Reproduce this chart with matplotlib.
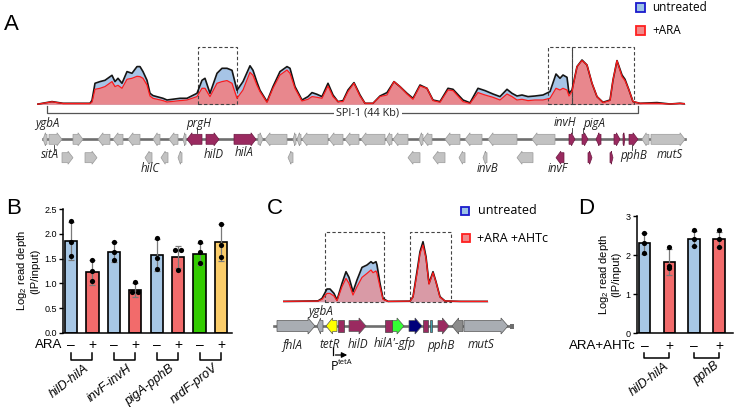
import numpy as np
import matplotlib
matplotlib.use("Agg")
import matplotlib.pyplot as plt
from matplotlib.patches import Polygon, Rectangle

plt.rcParams['font.family'] = ['Liberation Sans', 'DejaVu Sans']
plt.rcParams['mathtext.default'] = 'regular'

W, H = 736, 407

# ---- panel A coverage track (position along SPI-1 region, read depth) ----
a_pos = [37, 52, 63, 90, 92, 95, 100, 105, 112, 115, 118, 122, 127, 132, 137, 140,
         143, 147, 150, 153, 163, 167, 180, 187, 197, 202, 205, 210, 217, 222, 227,
         232, 237, 243, 250, 253, 257, 260, 267, 273, 280, 287, 290, 295, 302, 308,
         312, 317, 322, 328, 333, 338, 343, 348, 354, 360, 365, 373, 380, 387, 394,
         400, 407, 413, 420, 427, 433, 440, 448, 453, 463, 470, 478, 485, 493, 500,
         507, 512, 517, 522, 528, 535, 543, 550, 556, 560, 563, 567, 569, 572, 577,
         582, 587, 592, 597, 603, 610, 613, 617, 622, 625, 629, 633, 640, 657, 670,
         680, 685]
a_untreated = [0, 2.7, 1, 1, 4, 21, 22.7, 24, 29, 22.7, 26, 21, 32.7, 31, 37.7, 37.7,
               32.7, 24, 11, 8.7, 6, 4.3, 6, 6, 11, 24, 26, 11, 31, 36, 36,
               34, 14, 22.7, 38.5, 34, 22, 14, 2.7, 17.7, 32.7, 37.7, 36, 17.7, 4.3, 7.7,
               11.7, 10, 7.7, 21, 9.3, 2.7, 3.7, 14.3, 21.7, 9.3, 1, 1, 8.3, 11.7, 22.7,
               17.7, 11, 6, 19.3, 16, 4.3, 2.7, 16, 15, 4.3, 1.5, 16, 13.7, 10.3, 7.7,
               15, 11, 8.3, 9.3, 7.7, 8.3, 9.3, 12.7, 30.3, 26, 29.3, 27, 11, 14.3, 37.7,
               44.3, 39.3, 21, 7.7, 2, 4.3, 24.3, 43.7, 29.3, 25, 14.3, 2.7, 1, 1.7, 0.3,
               1, 0.5]
a_ara = [0, 2.5, 0.8, 0.8, 2, 15, 16, 17.7, 22.7, 17.7, 19, 16, 25, 26, 28, 27.7,
         26, 19.3, 8.3, 6, 3.7, 2.3, 3.7, 4.3, 7.7, 16, 16, 7.7, 21, 22.7, 23.7,
         21, 6, 14.3, 32, 29, 19, 12.7, 2, 16, 29.3, 34.3, 31, 16, 3.3, 5,
         7.7, 7, 6, 18.3, 7.7, 2.7, 2.7, 12.7, 21, 8.3, 1, 1, 7.7, 9.3, 22.7,
         17.7, 10.3, 5, 18.3, 16, 3.7, 2, 14.3, 13.7, 2.7, 0.8, 11.7, 9.3, 7, 4.3,
         10.3, 7.7, 4.3, 5, 3.7, 4.3, 4.3, 6, 16, 14.3, 16, 14.3, 8.3, 12.7, 37.7,
         43.7, 39.3, 21, 7.7, 1.7, 3.7, 24.3, 43.7, 27.7, 23.7, 14.3, 2.7, 1, 1, 0.3,
         1, 0.5]

# genes of panel A: (start, end, strand, row, purple?)
a_genes = [(43, 47, -1, 0, 0), (49, 62, 1, 0, 0), (73, 83, 1, 0, 0), (98, 110, -1, 0, 0),
           (113, 123, -1, 0, 0), (128, 140, -1, 0, 0), (153, 160, -1, 0, 0),
           (169, 178, -1, 0, 0), (183, 186, -1, 0, 0), (187, 202, -1, 0, 1),
           (206, 219, 1, 0, 1), (234, 256, 1, 0, 1), (258, 263, 1, 0, 0),
           (265, 287, -1, 0, 0), (293, 296, -1, 0, 0), (297, 301, -1, 0, 0),
           (302, 328, -1, 0, 0), (329, 343, -1, 0, 0), (345, 359, -1, 0, 0),
           (361, 385, -1, 0, 0), (386, 392, -1, 0, 0), (393, 408, -1, 0, 0),
           (419, 423, -1, 0, 0), (423, 432, -1, 0, 0), (445, 460, -1, 0, 0),
           (465, 482, -1, 0, 0), (488, 517, -1, 0, 0), (532, 555, -1, 0, 0),
           (569, 575, 1, 0, 1), (582, 588, 1, 0, 1), (596, 601, -1, 0, 1),
           (614, 620, 1, 0, 1), (623, 625, 1, 0, 1), (629, 638, 1, 0, 1),
           (642, 649, -1, 0, 0), (651, 685, 1, 0, 0),
           (62, 73, 1, 1, 0), (85, 97, 1, 1, 0), (145, 152, -1, 1, 0), (161, 168, -1, 1, 0),
           (178, 182, -1, 1, 0), (288, 293, -1, 1, 0), (408, 420, -1, 1, 0),
           (433, 445, -1, 1, 0), (459, 465, -1, 1, 0), (483, 487, -1, 1, 0),
           (517, 533, -1, 1, 0), (556, 564, -1, 1, 1), (588, 592, 1, 1, 1),
           (610, 613, 1, 1, 1)]
a_labels = [("ygbA", 47, 123), ("sitA", 50, 155), ("prgH", 199, 123), ("hilD", 214, 155),
            ("hilA", 244, 153), ("hilC", 150, 168), ("invB", 487, 168), ("invF", 558, 169),
            ("invH", 565, 123), ("pigA", 594, 123), ("pphB", 634, 155), ("mutS", 670, 155)]

# ---- panel C coverage track (reporter construct) ----
c_pos = [283, 300, 318, 322, 327, 330, 334, 337, 342, 346, 349, 353, 357, 362, 367, 371,
         373, 376, 377, 380, 383, 388, 407, 410, 413, 418, 420, 423, 426, 429, 433, 436,
         440, 445, 460, 488]
c_untreated = [0.3, 0.5, 0.8, 3.3, 12.7, 12.7, 8.3, 1.7, 18.3, 30, 24.3, 10, 21.7, 34.3,
               36.7, 40, 38.3, 40, 36.7, 18.3, 3.3, 0.3, 0.5, 0.5, 5, 36.7, 50, 60, 45,
               18.3, 30, 20, 5, 0.7, 0.3, 0.3]
c_ara = [0.3, 0.5, 0.6, 2.3, 8.3, 8.3, 5.7, 1, 15, 23.3, 18.3, 6.7, 15, 24.3, 28.3, 31.7,
         29, 30.7, 28.3, 15, 2.3, 0.3, 0.5, 0.5, 4.5, 34, 48, 56.7, 43.3, 17.5, 29, 19.5,
         4.5, 0.7, 0.3, 0.3]
c_genes = [(277, 315, 1, '#a9adb3'), (317, 323, -1, '#a9adb3'), (326, 337, -1, '#ffff00'),
           (349, 366, 1, '#9a2a60'), (392, 404, 1, '#33ff33'), (409, 422, 1, '#00007a'),
           (438, 449, 1, '#9a2a60'), (452, 463, -1, '#8c8c8c'), (464, 508, 1, '#a9adb3')]
c_blocks = [(338, 344, '#9a2a60'), (385, 392, '#9a2a60'), (423, 428, '#9a2a60'),
            (430, 432, '#3fa0b0')]
c_labels = [("ygbA", 321, 311), ("fhlA", 292, 345), ("tetR", 330, 345), ("hilD", 358, 345),
            ("hilA'-gfp", 395, 343), ("pphB", 441, 345), ("mutS", 481, 345)]

# ---- panel B ChIP bars ----
b_groups = ["hilD-hilA", "invF-invH", "pigA-pphB", "nrdF-proV"]
b_signs = ["\u2013", "+", "\u2013", "+", "\u2013", "+", "\u2013", "+"]
b_mean = [1.86, 1.22, 1.63, 0.86, 1.57, 1.54, 1.60, 1.83]
b_err = [0.39, 0.25, 0.20, 0.14, 0.33, 0.22, 0.22, 0.37]
b_dots = [[2.27, 1.84, 1.55], [1.47, 1.24, 1.05], [1.83, 1.64, 1.47], [1.03, 0.82, 0.82],
          [1.91, 1.51, 1.30], [1.68, 1.68, 1.28], [1.83, 1.64, 1.42], [2.20, 1.78, 1.54]]
b_colors = ['#a7c7e5', '#f26b6b', '#a7c7e5', '#f26b6b', '#a7c7e5', '#f26b6b', '#33cc00', '#fbcd6a']

# ---- panel D ChIP bars ----
d_groups = ["hilD-hilA", "pphB"]
d_signs = ["\u2013", "+", "\u2013", "+"]
d_mean = [2.30, 1.82, 2.42, 2.40]
d_err = [0.27, 0.34, 0.20, 0.20]
d_dots = [[2.56, 2.30, 2.06], [2.20, 1.72, 1.66], [2.63, 2.40, 2.22], [2.63, 2.40, 2.20]]
d_colors = ['#a7c7e5', '#f26b6b', '#a7c7e5', '#f26b6b']

BLUE_FILL = '#a6c4e6'
PINK_FILL = '#e8878d'
GREY = '#c2c2c2'
PURPLE = '#9a2a60'
GENE_FONT = ['Open Sans', 'DejaVu Sans']

fig = plt.figure(figsize=(W / 100, H / 100), dpi=100)


def px_axes(x0, y0, x1, y1):
    return fig.add_axes([x0 / W, 1 - y1 / H, (x1 - x0) / W, (y1 - y0) / H])


def gene_shape(s, e, strand, yc, body, head, hl_max):
    hl = min(hl_max, (e - s) * 0.6)
    if strand > 0:
        tip, base, back = e, e - hl, s
    else:
        tip, base, back = s, s + hl, e
    return [(back, yc - body / 2), (base, yc - body / 2), (base, yc - head / 2), (tip, yc),
            (base, yc + head / 2), (base, yc + body / 2), (back, yc + body / 2)]


def coverage(ax, pos, untr, ara, pink):
    ax.fill_between(pos, untr, color=BLUE_FILL, lw=0)
    ax.fill_between(pos, ara, color=pink, lw=0)
    ax.plot(pos, untr, color='#151515', lw=1.2)
    ax.plot(pos, ara, color='#ff1a1a', lw=0.9)
    ax.axis('off')


# overlay in pixel units for schematics, letters and legends
ov = px_axes(0, 0, W, H)
ov.set_xlim(0, W)
ov.set_ylim(H, 0)
ov.axis('off')

# ---------------- panel A ----------------
axA = px_axes(37, 40, 685, 105)
axA.set_xlim(37, 685)
axA.set_ylim(-0.7, 64.3)
coverage(axA, a_pos, a_untreated, a_ara, PINK_FILL)
for x0, x1 in [(198, 237), (548, 572), (572, 634)]:
    axA.add_patch(Rectangle((x0, 0), x1 - x0, 57, fill=False, ls=(0, (3, 2)), lw=0.8,
                            ec='#444444', clip_on=False))

ov.plot([47, 47, 638, 638], [106, 112.7, 112.7, 106], color='#555555', lw=0.9)
ov.text(368, 112.7, "SPI-1 (44 Kb)", ha='center', va='center', fontsize=7.8,
        family=GENE_FONT, color='#222222',
        bbox=dict(fc='white', ec='none', pad=1.5))

ov.plot([43, 685], [139.3, 139.3], color='#6e6e6e', lw=1.9, zorder=1)
for s, e, strand, row, purple in a_genes:
    yc = 139.3 if row == 0 else 157.7
    ov.add_patch(Polygon(gene_shape(s, e, strand, yc, 10, 13, 5),
                         fc=PURPLE if purple else GREY,
                         ec='#6d1a42' if purple else '#9a9a9a', lw=0.5, zorder=2))
for name, x, y in a_labels:
    ov.text(x, y, name, ha='center', va='center', style='italic', fontsize=8.3,
            family=GENE_FONT, color='#222222')
for x, y0, y1 in [(54, 145, 150), (197, 128, 133), (572, 128, 133), (583, 128, 133),
                  (632, 145, 150)]:
    ov.plot([x, x], [y0, y1], color='#333333', lw=0.6)

# legend A
ov.add_patch(Rectangle((636, 3), 9, 9, fc='#9dc3e6', ec='#1a1acc', lw=1.3))
ov.add_patch(Rectangle((636, 26), 9, 9, fc='#f08a8a', ec='#ff2020', lw=1.3))
ov.text(652, 7.5, "untreated", va='center', fontsize=8.5, family=GENE_FONT)
ov.text(652, 30.5, "+ARA", va='center', fontsize=8.5, family=GENE_FONT)

# ---------------- panel C ----------------
axC = px_axes(283, 225, 488, 302.5)
axC.set_xlim(283, 488)
axC.set_ylim(-0.8, 76.7)
coverage(axC, c_pos, c_untreated, c_ara, '#d99aa6')
for x0, x1 in [(325, 384), (410, 451)]:
    axC.add_patch(Rectangle((x0, 0), x1 - x0, 70, fill=False, ls=(0, (3, 2)), lw=0.8,
                            ec='#444444', clip_on=False))

ov.plot([274, 511], [326, 326], color='#6e6e6e', lw=1.9, zorder=1)
ov.add_patch(Rectangle((510, 323.5), 3.5, 5, fc='#6e6e6e', ec='none'))
for s, e, strand, col in c_genes:
    ov.add_patch(Polygon(gene_shape(s, e, strand, 326, 11, 16, 7), fc=col,
                         ec='#555555', lw=0.5, zorder=2))
for s, e, col in c_blocks:
    ov.add_patch(Rectangle((s, 320), e - s, 12, fc=col, ec='#444444', lw=0.5, zorder=2))
for name, x, y in c_labels:
    ov.text(x, y, name, ha='center', va='center', style='italic', fontsize=8.5,
            family=GENE_FONT, color='#222222')
ov.plot([333, 333], [347, 355], color='black', lw=0.9)
ov.annotate("", xy=(350, 355), xytext=(332.6, 355),
            arrowprops=dict(arrowstyle='-|>', color='black', lw=0.9, mutation_scale=8))
ov.text(331, 366, "P", ha='left', va='center', fontsize=9, family=GENE_FONT)
ov.text(337.5, 362, "tetA", ha='left', va='center', fontsize=5.5, family=GENE_FONT)

# legend C
ov.add_patch(Rectangle((461, 207), 8, 8, fc='#9dc3e6', ec='#1a1acc', lw=1.3))
ov.add_patch(Rectangle((462, 234), 8, 8, fc='#f08a8a', ec='#ff2020', lw=1.3))
ov.text(478, 211, "untreated", va='center', fontsize=9, family=GENE_FONT)
ov.text(477, 238, "+ARA +AHTc", va='center', fontsize=9, family=GENE_FONT)

# panel letters
for letter, x, y in [("A", 4, 25), ("B", 6, 208), ("C", 267, 208), ("D", 578, 208)]:
    ov.text(x, y, letter, ha='left', va='center', fontsize=16)


# ---------------- bar panels ----------------
def bar_panel(ax, means, errs, dots, colors, signs, groups, width, ylim, yticks, fmt,
              cond, sign_y, br_top, br_bot, lab_y, lab_dx):
    xs = np.arange(len(means))
    ax.bar(xs, means, width=width, color=colors, edgecolor='black', lw=1.2, zorder=2)
    ax.errorbar(xs, means, yerr=errs, fmt='none', ecolor='#7a7a7a', elinewidth=0.9,
                capsize=2.5, capthick=0.9, zorder=3)
    for x, vals in zip(xs, dots):
        vals = np.array(vals)
        offs = np.zeros(len(vals))
        for i in range(len(vals)):
            same = [j for j in range(len(vals)) if abs(vals[j] - vals[i]) < 0.05]
            if len(same) > 1:
                offs[i] = (same.index(i) - (len(same) - 1) / 2) * 0.28
        ax.scatter(x + offs, vals, s=14, color='black', zorder=4, lw=0)
    ax.set_xlim(-0.37 if len(means) == 8 else -0.3, len(means) - 1 + (0.51 if len(means) == 8 else 0.56))
    ax.set_ylim(*ylim)
    ax.set_yticks(yticks)
    ax.set_yticklabels([fmt.format(t) for t in yticks], fontsize=6.5)
    ax.set_xticks([])
    for sp in ['top', 'right']:
        ax.spines[sp].set_visible(False)
    for sp in ['left', 'bottom']:
        ax.spines[sp].set_linewidth(1.1)
    ax.tick_params(axis='y', direction='out', length=3, width=1, pad=1.5)
    ax.set_ylabel("Log$_2$ read depth\n(IP/input)", fontsize=8, linespacing=1.1, labelpad=3)
    for x, s in zip(xs, signs):
        ax.text(x, sign_y, s, ha='center', va='center', fontsize=10, clip_on=False)
    ax.text(cond[1], sign_y, cond[0], ha='right', va='center', fontsize=9.5, clip_on=False)
    for g, name in enumerate(groups):
        a, b = 2 * g, 2 * g + 1
        ax.plot([a, a, b, b], [br_top, br_bot, br_bot, br_top], color='black', lw=1.1,
                clip_on=False)
        ax.text((a + b) / 2 + lab_dx, lab_y, name, rotation=38, rotation_mode='anchor',
                ha='right', va='top', style='italic', fontsize=9, clip_on=False)


axB = px_axes(63, 209.3, 232, 332.7)
bar_panel(axB, b_mean, b_err, b_dots, b_colors, b_signs, b_groups, 0.58, (0, 2.5),
          [0, 0.5, 1.0, 1.5, 2.0, 2.5], "{:.1f}", ("ARA", -0.42), -0.25, -0.41, -0.56,
          -0.6, 0.1)

axD = px_axes(637, 216, 733, 333.3)
bar_panel(axD, d_mean, d_err, d_dots, d_colors, d_signs, d_groups, 0.46, (0, 3),
          [0, 1, 2, 3], "{:d}", ("ARA+AHTc", -0.35), -0.32, -0.5, -0.63, -0.68, 0.3)

fig.savefig("out.png", dpi=100)
